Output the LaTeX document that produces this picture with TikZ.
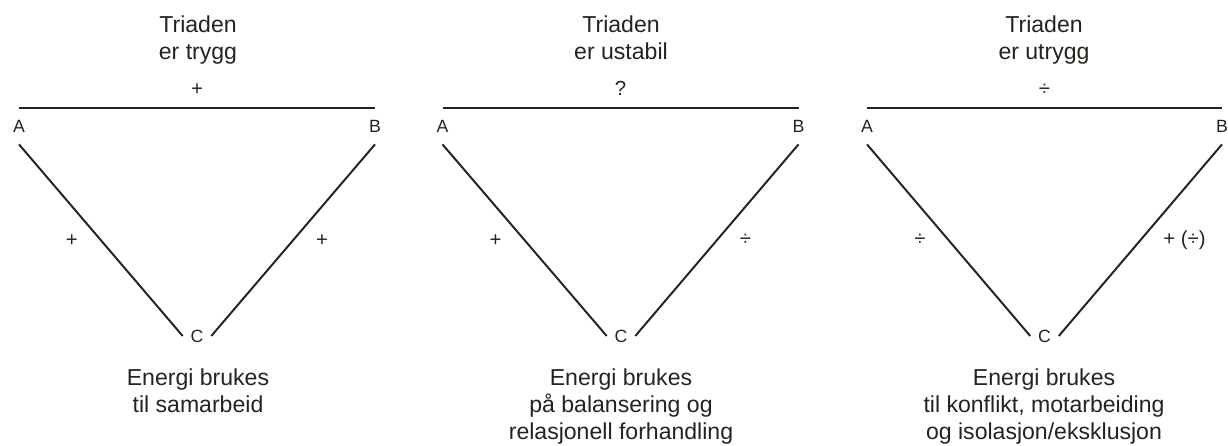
\documentclass[tikz,border=0pt]{standalone}
\usepackage{fontspec}
\setmainfont{Liberation Sans}
\usepackage{tikz}
\usetikzlibrary{positioning}
\definecolor{TriInk}{RGB}{38,35,30}

\begin{document}
\begin{tikzpicture}[x=0.025cm, y=-0.025cm,
          corner/.style={font=\fontsize{12.6}{14}\selectfont, text=TriInk,
                         inner sep=0.3cm},
          apex/.style={corner, inner sep=0pt, inner xsep=0.19cm},
          sign/.style={font=\fontsize{14.5}{16}\selectfont, text=TriInk,
                       inner sep=0pt},
          note/.style={font=\fontsize{16.4}{19.1}\selectfont, text=TriInk,
                       align=center, anchor=north, inner sep=0pt},
          tie/.style={line width=1.4pt, TriInk}
        ]
        \useasboundingbox (0,0) rectangle (1228,446);

        % Trygg triade
        \node[corner] (a1) at (19, 126) {A};
        \node[corner] (b1) at (375, 126) {B};
        \node[apex]   (c1) at (197, 336) {C};
        \node[note] (top1) at (198, 15.7) {Triaden\\er trygg};
        \node[note] (bot1) at (198, 369) {Energi brukes\\til samarbeid};

        % Ustabil triade
        \node[corner] (a2) at (442.5, 126) {A};
        \node[corner] (b2) at (798.5, 126) {B};
        \node[apex]   (c2) at (621, 336) {C};
        \node[note] (top2) at (621, 15.7) {Triaden\\er ustabil};
        \node[note] (bot2) at (621, 369)
              {Energi brukes\\på balansering og\\relasjonell forhandling};

        % Utrygg triade
        \node[corner] (a3) at (867, 126) {A};
        \node[corner] (b3) at (1222, 126) {B};
        \node[apex]   (c3) at (1044.5, 336) {C};
        \node[note] (top3) at (1044, 15.7) {Triaden\\er utrygg};
        \node[note] (bot3) at (1044, 369)
              {Energi brukes\\til konflikt, motarbeiding\\og isolasjon/eksklusjon};

        \foreach \p/\ab/\ac/\bc in {1/+/+/+, 2/?/+/÷, 3/÷/÷/{+ (÷)}} {
          \draw[tie] (a\p.north) -- node[sign, midway, above=0.27cm] (ab\p) {\ab} (b\p.north);
          \draw[tie] (a\p.south) -- node[sign, midway, left=0.55cm] (ac\p) {\ac} (c\p.west);
          \draw[tie] (b\p.south) -- node[sign, midway, right=0.55cm] (bc\p) {\bc} (c\p.east);
        }
      \end{tikzpicture}
\end{document}
